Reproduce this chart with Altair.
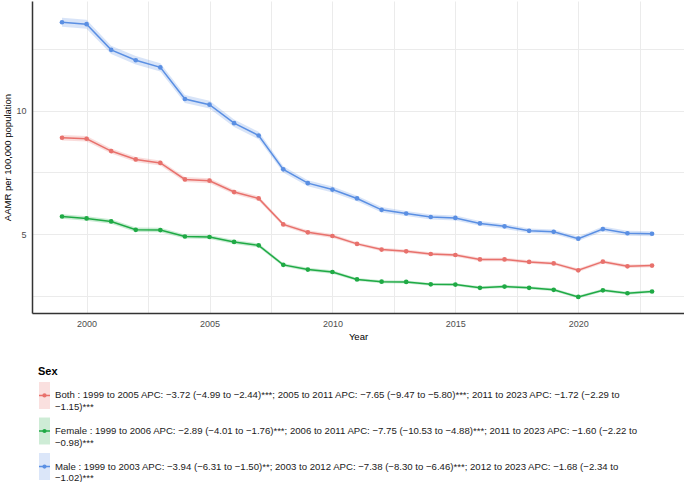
import altair as alt
import pandas as pd

# Age-adjusted mortality rate (AAMR) per 100,000 by sex, with 95% CI bands
years = list(range(1999, 2024))

male = [13.58, 13.50, 12.46, 12.04, 11.75, 10.47, 10.24, 9.49, 8.99, 7.62, 7.06, 6.80, 6.44,
        5.98, 5.83, 5.69, 5.65, 5.43, 5.31, 5.13, 5.09, 4.81, 5.20, 5.03, 5.01]
male_lo = [13.40, 13.32, 12.29, 11.87, 11.58, 10.31, 10.08, 9.34, 8.84, 7.49, 6.94, 6.68, 6.33,
           5.87, 5.73, 5.59, 5.55, 5.33, 5.21, 5.04, 5.00, 4.72, 5.10, 4.93, 4.91]
male_hi = [13.76, 13.68, 12.63, 12.21, 11.92, 10.63, 10.40, 9.64, 9.14, 7.75, 7.18, 6.92, 6.55,
           6.09, 5.93, 5.79, 5.75, 5.53, 5.41, 5.22, 5.18, 4.90, 5.30, 5.13, 5.11]

both = [8.90, 8.86, 8.36, 8.02, 7.88, 7.21, 7.16, 6.70, 6.44, 5.39, 5.07, 4.92, 4.60,
        4.37, 4.30, 4.19, 4.15, 3.97, 3.97, 3.87, 3.81, 3.53, 3.88, 3.69, 3.72]
both_lo = [8.79, 8.75, 8.26, 7.92, 7.78, 7.11, 7.06, 6.61, 6.35, 5.31, 4.99, 4.84, 4.53,
           4.30, 4.23, 4.12, 4.08, 3.90, 3.90, 3.80, 3.74, 3.46, 3.81, 3.62, 3.65]
both_hi = [9.01, 8.97, 8.46, 8.12, 7.98, 7.31, 7.26, 6.79, 6.53, 5.47, 5.15, 5.00, 4.67,
           4.44, 4.37, 4.26, 4.22, 4.04, 4.04, 3.94, 3.88, 3.60, 3.95, 3.76, 3.79]

female = [5.71, 5.63, 5.51, 5.17, 5.16, 4.90, 4.88, 4.68, 4.54, 3.75, 3.56, 3.46, 3.16,
          3.07, 3.06, 2.96, 2.95, 2.82, 2.87, 2.82, 2.74, 2.45, 2.72, 2.60, 2.67]
female_lo = [5.62, 5.54, 5.42, 5.08, 5.07, 4.82, 4.80, 4.60, 4.46, 3.68, 3.49, 3.39, 3.10,
             3.01, 3.00, 2.90, 2.89, 2.76, 2.81, 2.76, 2.68, 2.39, 2.66, 2.54, 2.61]
female_hi = [5.80, 5.72, 5.60, 5.26, 5.25, 4.98, 4.96, 4.76, 4.62, 3.82, 3.63, 3.53, 3.22,
             3.13, 3.12, 3.02, 3.01, 2.88, 2.93, 2.88, 2.80, 2.51, 2.78, 2.66, 2.73]

sexes = ["Both", "Female", "Male"]
colors = ["#E8716C", "#1FAA45", "#5A8FE3"]

legend_labels = [
    "Both : 1999 to 2005 APC: \u22123.72 (\u22124.99 to \u22122.44)***; 2005 to 2011 APC: \u22127.65 (\u22129.47 to \u22125.80)***; 2011 to 2023 APC: \u22121.72 (\u22122.29 to\n\u22121.15)***",
    "Female : 1999 to 2006 APC: \u22122.89 (\u22124.01 to \u22121.76)***; 2006 to 2011 APC: \u22127.75 (\u221210.53 to \u22124.88)***; 2011 to 2023 APC: \u22121.60 (\u22122.22 to\n\u22120.98)***",
    "Male : 1999 to 2003 APC: \u22123.94 (\u22126.31 to \u22121.50)**; 2003 to 2012 APC: \u22127.38 (\u22128.30 to \u22126.46)***; 2012 to 2023 APC: \u22121.68 (\u22122.34 to\n\u22121.02)***",
]

series = {
    "Both": (both, both_lo, both_hi),
    "Female": (female, female_lo, female_hi),
    "Male": (male, male_lo, male_hi),
}
rows = []
for sex, (v, lo, hi) in series.items():
    for yr, a, b, c in zip(years, v, lo, hi):
        rows.append({"Year": yr, "Sex": sex, "AAMR": a, "Lower": b, "Upper": c})
df = pd.DataFrame(rows)

color = alt.Color("Sex:N", scale=alt.Scale(domain=sexes, range=colors), legend=None)

x_enc = alt.X(
    "Year:Q",
    scale=alt.Scale(domain=[1997.78, 2024.3], nice=False, zero=False),
    axis=alt.Axis(
        title="Year",
        values=[2000 + 2.5 * i for i in range(10)],
        labelExpr="datum.value % 5 == 0 ? datum.value : ''",
        format="d",
        ticks=False,
        labelPadding=6,
        titlePadding=3,
    ),
)
y_scale = alt.Scale(domain=[1.80, 14.44], nice=False, zero=False)
y_axis = alt.Axis(
    title="AAMR per 100,000 population",
    values=[2.5, 5, 7.5, 10, 12.5],
    labelExpr="datum.value % 5 == 0 ? datum.value : ''",
    ticks=False,
    labelPadding=6,
    titlePadding=3,
)

base = alt.Chart(df)
band = base.mark_area(opacity=0.24).encode(
    x=x_enc,
    y=alt.Y("Lower:Q", scale=y_scale, axis=y_axis),
    y2="Upper:Q",
    color=color,
)
lines = base.mark_line(strokeWidth=1.5).encode(x="Year:Q", y="AAMR:Q", color=color)
points = base.mark_circle(size=22, opacity=1).encode(x="Year:Q", y="AAMR:Q", color=color)

main = alt.layer(band, lines, points).properties(width=652, height=312)

# Legend panel: key box with line and point, then the APC text
leg_df = pd.DataFrame({"Sex": sexes, "label": legend_labels})
leg_y = alt.Y("Sex:N", sort=sexes, axis=None,
              scale=alt.Scale(paddingInner=0.24, paddingOuter=0))
leg_base = alt.Chart(leg_df)
key_box = leg_base.mark_rect(opacity=0.22).encode(
    y=leg_y, x=alt.value(7), x2=alt.value(18), color=color)
key_line = leg_base.mark_rule(strokeWidth=1.5).encode(
    y=leg_y, x=alt.value(7), x2=alt.value(18), color=color)
key_point = leg_base.mark_circle(size=18, opacity=1).encode(
    y=leg_y, x=alt.value(12.5), color=color)
key_text = leg_base.mark_text(
    align="left", baseline="middle", fontSize=9.6, lineBreak="\n", lineHeight=11.5, color="#1a1a1a"
).encode(y=leg_y, x=alt.value(23), text="label:N")

legend = alt.layer(key_box, key_line, key_point, key_text).properties(
    width=652,
    height=98,
    title=alt.TitleParams("Sex", anchor="start", dx=6, fontSize=11, fontWeight="bold",
                          offset=5, color="#000000"),
)

chart = alt.vconcat(main, legend, spacing=25).configure(
    font="Liberation Sans",
    padding={"left": 2, "top": 1, "right": 0, "bottom": 0},
).configure_view(
    stroke=None
).configure_axis(
    grid=True,
    gridColor="#EBEBEB",
    gridWidth=1,
    domainColor="#333333",
    domainWidth=1.5,
    labelColor="#4D4D4D",
    labelFontSize=9,
    titleFontSize=9.5,
    titleFontWeight="normal",
    titleColor="#000000",
)

chart.save("out.html", embed_options={"renderer": "svg", "actions": False})
